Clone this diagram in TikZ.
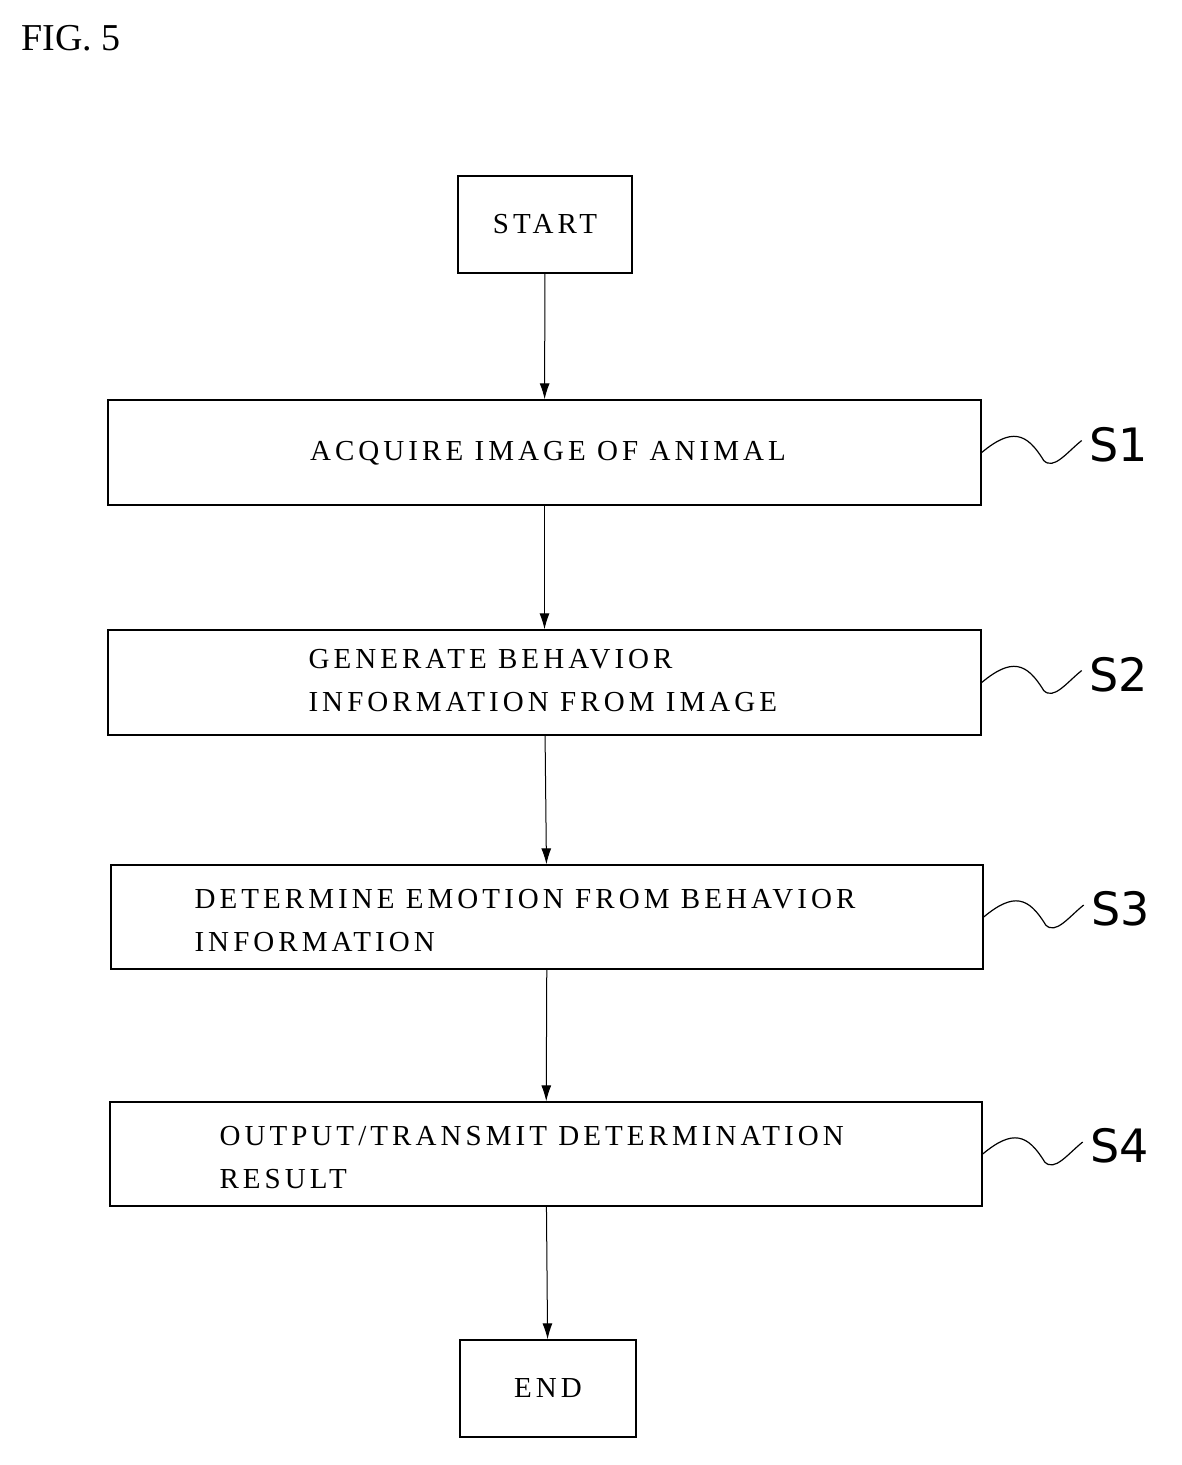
\documentclass[tikz,border=0pt]{standalone}
\usepackage{fontspec}
\setmainfont{Liberation Serif}
\newfontfamily\spacedserif[LetterSpace=14]{Liberation Serif}
\newfontfamily\lbl{DejaVu Sans}
\usetikzlibrary{arrows.meta}
\begin{document}
\begin{tikzpicture}[x=1pt,y=-1pt,
 box/.style={draw,line width=1.4pt,inner sep=0pt},
 txt/.style={font=\spacedserif\fontsize{29}{43}\selectfont,align=left},
 arr/.style={-{Latex[length=16pt,width=10pt]},line width=1pt},
 sl/.style={font=\lbl\fontsize{46}{46}\selectfont,anchor=west}]
\useasboundingbox (0,0) rectangle (1182,1465);
\node[anchor=west,font=\fontsize{38}{38}\selectfont] (fig) at (18,38) {FIG. 5};
\node[box,minimum width=174,minimum height=97] (st) at (545,224.5) {};
\node[txt] (stt) at (st) {START};
\node[box,minimum width=873,minimum height=105] (s1) at (544.5,452.5) {};
\node[txt] (s1t) at (548,453) {ACQUIRE IMAGE OF ANIMAL};
\node[box,minimum width=873,minimum height=105] (s2) at (544.5,682.5) {};
\node[txt,anchor=west] (s2t) at (305,681) {GENERATE BEHAVIOR\\INFORMATION FROM IMAGE};
\node[box,minimum width=872,minimum height=104] (s3) at (547,917) {};
\node[txt,anchor=west] (s3t) at (191,921) {DETERMINE EMOTION FROM BEHAVIOR\\INFORMATION};
\node[box,minimum width=872,minimum height=104] (s4) at (546,1154) {};
\node[txt,anchor=west] (s4t) at (216,1158) {OUTPUT/TRANSMIT DETERMINATION\\RESULT};
\node[box,minimum width=176,minimum height=97] (en) at (548,1388.5) {};
\node[txt] (ent) at (en) {END};
\draw[arr] (st) -- (s1);
\draw[arr] (s1) -- (s2);
\draw[arr] (s2) -- (s3);
\draw[arr] (s3) -- (s4);
\draw[arr] (s4) -- (en);
\foreach \b/\l in {s1/S1,s2/S2,s3/S3,s4/S4}{
 \draw[line width=1.2pt] (\b.east) .. controls ([xshift=30,yshift=25]\b.east) and ([xshift=45,yshift=20]\b.east) .. ([xshift=62,yshift=-8]\b.east) .. controls ([xshift=72,yshift=-18]\b.east) and ([xshift=85,yshift=0]\b.east) .. ([xshift=100,yshift=12]\b.east) coordinate (\b w);
 \node[sl] (\b l) at ([xshift=4,yshift=-4]\b w) {\l};
}
\end{tikzpicture}
\end{document}
